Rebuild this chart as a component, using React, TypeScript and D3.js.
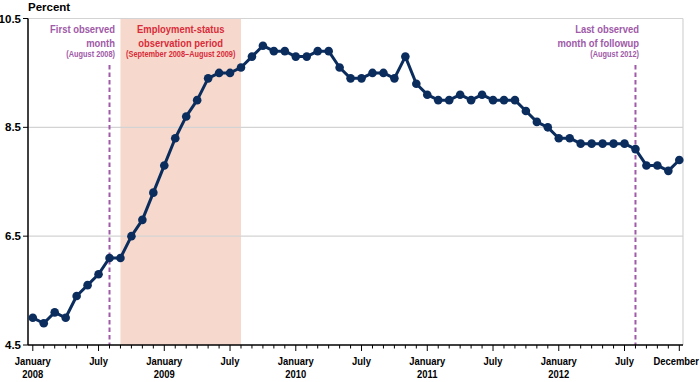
import React from "react";
import * as d3 from "d3";

const months: string[] = [];
const years = [2008, 2009, 2010, 2011, 2012];
const monthNames = ["January","February","March","April","May","June","July","August","September","October","November","December"];
years.forEach((y) => monthNames.forEach((m) => months.push(`${m} ${y}`)));

const rates2008 = [5.0, 4.9, 5.1, 5.0, 5.4, 5.6, 5.8, 6.1, 6.1, 6.5, 6.8, 7.3];
const rates2009 = [7.8, 8.3, 8.7, 9.0, 9.4, 9.5, 9.5, 9.6, 9.8, 10.0, 9.9, 9.9];
const rates2010 = [9.8, 9.8, 9.9, 9.9, 9.6, 9.4, 9.4, 9.5, 9.5, 9.4, 9.8, 9.3];
const rates2011 = [9.1, 9.0, 9.0, 9.1, 9.0, 9.1, 9.0, 9.0, 9.0, 8.8, 8.6, 8.5];
const rates2012 = [8.3, 8.3, 8.2, 8.2, 8.2, 8.2, 8.2, 8.1, 7.8, 7.8, 7.7, 7.9];
const rates = [...rates2008, ...rates2009, ...rates2010, ...rates2011, ...rates2012];

const yTicks = [4.5, 6.5, 8.5, 10.5];
const xLabels = [
  { idx: 0, line1: "January", line2: "2008" },
  { idx: 6, line1: "July", line2: "" },
  { idx: 12, line1: "January", line2: "2009" },
  { idx: 18, line1: "July", line2: "" },
  { idx: 24, line1: "January", line2: "2010" },
  { idx: 30, line1: "July", line2: "" },
  { idx: 36, line1: "January", line2: "2011" },
  { idx: 42, line1: "July", line2: "" },
  { idx: 48, line1: "January", line2: "2012" },
  { idx: 54, line1: "July", line2: "" },
  { idx: 59, line1: "December", line2: "" },
];
const shadeStart = 8; // September 2008
const shadeEnd = 19; // August 2009
const firstObserved = 7; // August 2008
const lastObserved = 55; // August 2012

const W = 700;
const H = 382;
const plotLeft = 28;
const plotRight = 683;
const SANS = "'Liberation Sans', Arial, sans-serif";
const NAVY = "#0b2d5e";
const PURPLE = "#a05aa8";
const RED = "#d92b3a";
const SQUEEZE = 0.82;

function NT(props: { x: number; y: number; anchor: string; size: number; fill: string; children: React.ReactNode }) {
  return (
    <text
      transform={`translate(${props.x},${props.y}) scale(${SQUEEZE},1)`}
      textAnchor={props.anchor}
      fontFamily={SANS}
      fontWeight="bold"
      fontSize={props.size}
      fill={props.fill}
    >
      {props.children}
    </text>
  );
}

export default function App() {
  const x = d3.scaleLinear().domain([0, 59]).range([32.8, 679.3]);
  const y = d3.scaleLinear().domain([4.5, 10.5]).range([345, 18.5]);
  const line = d3
    .line<number>()
    .x((_, i) => x(i))
    .y((d) => y(d));
  const shadeMid = (x(shadeStart) + x(shadeEnd)) / 2;

  return (
    <svg
      width={W}
      height={H}
      style={{ position: "absolute", left: 0, top: 0, background: "#fff" }}
    >
      {/* shaded period */}
      <rect
        x={x(shadeStart)}
        y={y(10.5)}
        width={x(shadeEnd) - x(shadeStart)}
        height={y(4.5) - y(10.5)}
        fill="#f6d9cc"
      />
      {/* gridlines */}
      {yTicks.slice(1).map((t) => (
        <line key={t} x1={plotLeft} x2={plotRight} y1={y(t)} y2={y(t)} stroke="#d3d3d3" strokeWidth={1.2} />
      ))}
      <line x1={plotRight} x2={plotRight} y1={y(10.5)} y2={y(4.5)} stroke="#d3d3d3" strokeWidth={1.2} />

      {/* dashed lines */}
      {[firstObserved, lastObserved].map((i) => (
        <line key={i} x1={x(i)} x2={x(i)} y1={65} y2={y(4.5)} stroke={PURPLE} strokeWidth={2} strokeDasharray="4.5,3" />
      ))}

      {/* axes */}
      <line x1={plotLeft} x2={plotLeft} y1={y(10.5)} y2={y(4.5)} stroke="#000" strokeWidth={1.5} />
      <line x1={plotLeft} x2={plotRight} y1={y(4.5)} y2={y(4.5)} stroke="#000" strokeWidth={1.5} />
      {yTicks.map((t) => (
        <g key={t}>
          <line x1={plotLeft - 5} x2={plotLeft} y1={y(t)} y2={y(t)} stroke="#000" strokeWidth={1} />
          <text x={21} y={y(t)} dy="0.36em" textAnchor="end" fontFamily={SANS} fontWeight="bold" fontSize={11.5} fill="#000">
            {t.toFixed(1)}
          </text>
        </g>
      ))}
      {months.map((m, i) => {
        const major = i % 6 === 0 || i === 59;
        return (
          <line key={m} x1={x(i)} x2={x(i)} y1={y(4.5)} y2={y(4.5) + (major ? 6 : 3.5)} stroke="#000" strokeWidth={1} />
        );
      })}
      {xLabels.map((l) => {
        const last = l.idx === 59;
        const lx = last ? 699 : x(l.idx);
        const anchor = last ? "end" : "middle";
        return (
          <g key={l.idx}>
            <NT x={lx} y={365} anchor={anchor} size={11.5} fill="#000">{l.line1}</NT>
            {l.line2 && <NT x={lx} y={377.5} anchor={anchor} size={11.5} fill="#000">{l.line2}</NT>}
          </g>
        );
      })}
      <text x={28} y={10.5} fontFamily={SANS} fontWeight="bold" fontSize={11.5} fill="#000">Percent</text>

      {/* annotations */}
      <NT x={115} y={33} anchor="end" size={11.5} fill={PURPLE}>First observed</NT>
      <NT x={115} y={46.5} anchor="end" size={11.5} fill={PURPLE}>month</NT>
      <NT x={115} y={56.5} anchor="end" size={9} fill={PURPLE}>(August 2008)</NT>
      <NT x={639} y={33} anchor="end" size={11.5} fill={PURPLE}>Last observed</NT>
      <NT x={639} y={46.5} anchor="end" size={11.5} fill={PURPLE}>month of followup</NT>
      <NT x={639} y={56.5} anchor="end" size={9} fill={PURPLE}>(August 2012)</NT>
      <NT x={shadeMid} y={33} anchor="middle" size={11.5} fill={RED}>Employment-status</NT>
      <NT x={shadeMid} y={46.5} anchor="middle" size={11.5} fill={RED}>observation period</NT>
      <NT x={shadeMid} y={56.5} anchor="middle" size={9} fill={RED}>(September 2008–August 2009)</NT>

      {/* series */}
      <path d={line(rates) || ""} fill="none" stroke={NAVY} strokeWidth={3} strokeLinejoin="round" />
      {rates.map((v, i) => (
        <circle key={i} cx={x(i)} cy={y(v)} r={4.3} fill={NAVY} />
      ))}
    </svg>
  );
}
